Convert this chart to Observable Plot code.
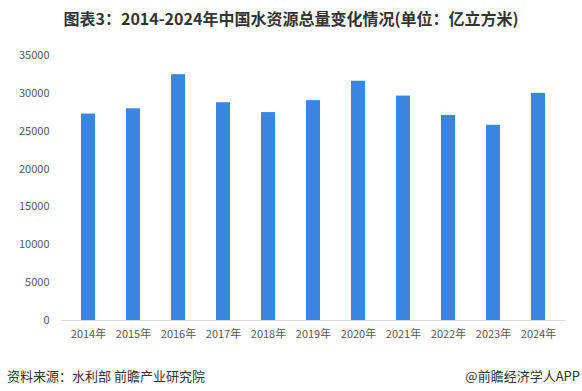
<!DOCTYPE html>
<html>
<head>
<meta charset="utf-8">
<script src="https://cdn.jsdelivr.net/npm/d3@7"></script>
<script src="https://cdn.jsdelivr.net/npm/@observablehq/plot@0.6"></script>
<style>
  html, body { margin: 0; padding: 0; background: #fff; }
  #wrap { width: 582px; height: 391px; position: relative; font-family: "Noto Sans CJK SC", "Noto Sans", sans-serif; }
  #title { height: 36px; line-height: 36px; text-align: center; font-size: 16px; font-weight: bold; color: #333; white-space: nowrap; }
  #footer { position: relative; height: 37px; font-size: 13px; color: #333; }
  #footer .l { position: absolute; left: 7px; top: 12px; line-height: 20px; }
  #footer .r { position: absolute; right: 2px; top: 12px; line-height: 20px; }
  svg { display: block; }
</style>
</head>
<body>
<div id="wrap">
  <div id="title">图表3：2014-2024年中国水资源总量变化情况(单位：亿立方米)</div>
  <div id="chart"></div>
  <div id="footer"><span class="l">资料来源：水利部 前瞻产业研究院</span><span class="r">@前瞻经济学人APP</span></div>
</div>
<script>
const years = ["2014年","2015年","2016年","2017年","2018年","2019年","2020年","2021年","2022年","2023年","2024年"];
const values = [27267, 27963, 32466, 28761, 27463, 29041, 31605, 29638, 27088, 25783, 30000];
const yTicks = [0, 5000, 10000, 15000, 20000, 25000, 30000, 35000];

const data = years.map((y, i) => ({year: y, value: values[i]}));

const chart = Plot.plot({
  width: 582,
  height: 318,
  marginTop: 19,
  marginBottom: 34,
  marginLeft: 61,
  marginRight: 17,
  style: {fontFamily: '"Noto Sans CJK SC", "Noto Sans", sans-serif', fontSize: "11px", color: "#595959", background: "transparent"},
  x: {domain: years, paddingInner: 0.69, paddingOuter: 0.345, label: null},
  y: {domain: [0, 35000], label: null},
  marks: [
    Plot.axisX({tickSize: 0, tickPadding: 10, fill: "#595959", fontSize: 11}),
    Plot.axisY({ticks: yTicks, tickSize: 0, tickPadding: 12, fill: "#595959", fontSize: 11, tickFormat: d => String(d)}),
    Plot.barY(data, {x: "year", y: "value", fill: "#3a84e2"}),
    Plot.ruleY([0], {stroke: "#d9d9d9", strokeWidth: 1})
  ]
});
document.getElementById("chart").appendChild(chart);
</script>
</body>
</html>
